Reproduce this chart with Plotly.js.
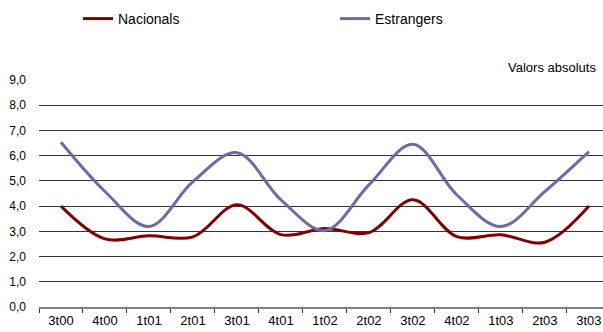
<!DOCTYPE html>
<html>
<head>
<meta charset="utf-8">
<script src="https://cdn.plot.ly/plotly-3.0.1.min.js"></script>
<style>
  html, body { margin: 0; padding: 0; background: #fff; }
  #chart { width: 603px; height: 332px; }
</style>
</head>
<body>
<div id="chart"></div>
<script>
const categories = ['3t00','4t00','1t01','2t01','3t01','4t01','1t02','2t02','3t02','4t02','1t03','2t03','3t03'];
const nacionals  = [4.00, 2.70, 2.82, 2.78, 4.05, 2.87, 3.11, 2.95, 4.25, 2.79, 2.86, 2.57, 4.00];
const estrangers = [6.53, 4.58, 3.19, 4.97, 6.12, 4.25, 3.03, 4.84, 6.45, 4.44, 3.19, 4.58, 6.16];
const seriesNames = ['Nacionals', 'Estrangers'];
const unitLabel = 'Valors absoluts';

const FONT = 'Liberation Sans, Arial, sans-serif';

const traces = [
  {
    x: categories, y: nacionals, name: seriesNames[0], type: 'scatter', mode: 'lines',
    line: { color: '#800000', width: 3, shape: 'spline', smoothing: 1 },
    hoverinfo: 'skip'
  },
  {
    x: categories, y: estrangers, name: seriesNames[1], type: 'scatter', mode: 'lines',
    line: { color: '#6b6ba6', width: 3, shape: 'spline', smoothing: 1 },
    hoverinfo: 'skip'
  }
];

const layout = {
  width: 603, height: 332,
  margin: { l: 39, r: 0, t: 80, b: 25, pad: 0 },
  paper_bgcolor: '#fff', plot_bgcolor: '#fff',
  separators: ',.',
  font: { family: FONT, size: 12, color: '#000' },
  showlegend: true,
  legend: {
    orientation: 'h',
    xref: 'container', yref: 'container',
    x: 78 / 603, y: 1 - 19 / 332,
    xanchor: 'left', yanchor: 'middle',
    entrywidth: 212, entrywidthmode: 'pixels',
    font: { family: FONT, size: 14, color: '#000' },
    bgcolor: 'rgba(0,0,0,0)', borderwidth: 0,
    traceorder: 'normal'
  },
  xaxis: {
    type: 'category',
    range: [-0.5, 12.32],
    showgrid: false, zeroline: false,
    showline: true, linecolor: '#808080', linewidth: 2,
    ticks: 'outside', tickson: 'boundaries', ticklen: 4, tickwidth: 1, tickcolor: '#333',
    tickfont: { family: FONT, size: 13, color: '#000' },
    fixedrange: true
  },
  yaxis: {
    range: [0, 9],
    dtick: 1, tick0: 0,
    tickformat: '.1f',
    showgrid: true, gridcolor: '#333', gridwidth: 1,
    zeroline: false, showline: false, ticks: '',
    ticklabelstandoff: 12,
    tickfont: { family: FONT, size: 12, color: '#000' },
    fixedrange: true
  },
  annotations: [{
    text: unitLabel,
    xref: 'paper', yref: 'paper',
    x: (598 - 39) / 564, y: (307 - 67) / 227,
    xanchor: 'right', yanchor: 'middle',
    showarrow: false,
    font: { family: FONT, size: 13, color: '#000' }
  }]
};

Plotly.newPlot('chart', traces, layout, { staticPlot: true, displayModeBar: false });
</script>
</body>
</html>
